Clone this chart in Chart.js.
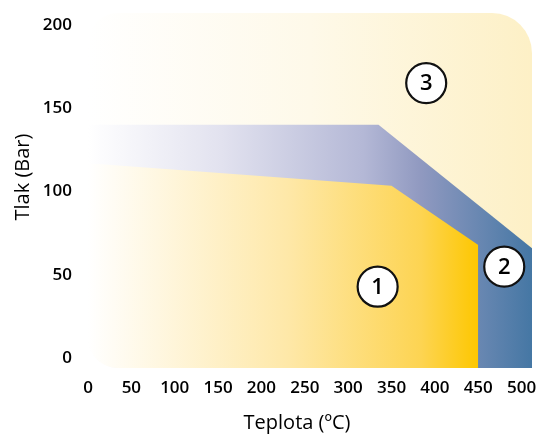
<!DOCTYPE html>
<html>
<head>
<meta charset="utf-8">
<script src="https://cdn.jsdelivr.net/npm/chart.js@4"></script>
<style>
	html, body { margin: 0; padding: 0; background: #fff; }
	#wrap { width: 547px; height: 435px; }
</style>
</head>
<body>
<div id="wrap"><canvas id="phaseChart"></canvas></div>
<script>
// axis ranges and ticks
const xTicks = [0, 50, 100, 150, 200, 250, 300, 350, 400, 450, 500];
const yTicks = [0, 50, 100, 150, 200];
const xRange = [0, 512];
const yRange = [-5.7, 207];

// region 2 (blue band) outline, temperature / pressure
const zone2Temp = [0, 335, 512, 512];
const zone2Press = [140, 140, 66, -5.7];

// region 1 (yellow) outline
const zone1Temp = [0, 350, 450, 450];
const zone1Press = [117, 103.5, 68, -5.7];

// numbered markers
const markerText = ['1', '2', '3'];
const markerTemp = [334, 480, 390];
const markerPress = [43, 55, 165];

const toPoints = (xs, ys) => xs.map((x, i) => ({ x: x, y: ys[i] }));

// horizontal gradient over the chart area
function hGradient(chart, stops) {
	const area = chart.chartArea;
	if (!area) return stops[stops.length - 1][1];
	const g = chart.ctx.createLinearGradient(area.left, 0, area.right, 0);
	stops.forEach(s => g.addColorStop(s[0], s[1]));
	return g;
}

const radii = [30, 40, 0, 30]; // tl, tr, br, bl

// background (region 3) + clip to rounded plot area
const plotShape = {
	id: 'plotShape',
	beforeDatasetsDraw(chart) {
		const { ctx, chartArea: a } = chart;
		ctx.save();
		ctx.beginPath();
		ctx.roundRect(a.left, a.top, a.right - a.left, a.bottom - a.top, radii);
		ctx.fillStyle = hGradient(chart, [[0, '#ffffff'], [0.5, '#fef9e9'], [1, '#fdf0c6']]);
		ctx.fill();
		ctx.clip();
	},
	afterDatasetsDraw(chart) {
		const ctx = chart.ctx;
		ctx.restore();
		// marker numbers
		const meta = chart.getDatasetMeta(2);
		ctx.save();
		ctx.font = '600 22px "Open Sans"';
		ctx.fillStyle = '#000';
		ctx.textAlign = 'center';
		ctx.textBaseline = 'middle';
		meta.data.forEach((pt, i) => {
			ctx.fillText(markerText[i], pt.x, pt.y + 1);
		});
		ctx.restore();
	},
	afterDraw(chart) {
		const ctx = chart.ctx;
		ctx.save();
		ctx.fillStyle = '#000';
		ctx.font = '20px "Open Sans"';
		ctx.textAlign = 'center';
		ctx.textBaseline = 'middle';
		ctx.fillText('Teplota (ºC)', 297, 423);
		ctx.translate(23, 177);
		ctx.rotate(-Math.PI / 2);
		ctx.fillText('Tlak (Bar)', 0, 0);
		ctx.restore();
	}
};

const tickFont = { family: 'Open Sans', size: 17, weight: '600' };

new Chart(document.getElementById('phaseChart'), {
	type: 'line',
	data: {
		datasets: [
			{
				label: 'Zone 2',
				data: toPoints(zone2Temp, zone2Press),
				order: 3,
				fill: 'start',
				borderWidth: 0,
				pointRadius: 0,
				tension: 0,
				backgroundColor: ctx => hGradient(ctx.chart, [[0, '#ffffff'], [0.3, '#e2e2ef'], [0.62, '#b4b8d6'], [0.75, '#9099c0'], [1, '#4577a4']]),
			},
			{
				label: 'Zone 1',
				data: toPoints(zone1Temp, zone1Press),
				order: 2,
				fill: 'start',
				borderWidth: 0,
				pointRadius: 0,
				tension: 0,
				backgroundColor: ctx => hGradient(ctx.chart, [[0, '#ffffff'], [0.45, '#fee8a8'], [0.75, '#fdd452'], [0.88, '#fdc700'], [1, '#fdc700']]),
			},
			{
				label: 'Markers',
				type: 'scatter',
				data: toPoints(markerTemp, markerPress),
				order: 1,
				pointRadius: 20,
				pointBackgroundColor: '#fff',
				pointBorderColor: '#111',
				pointBorderWidth: 2.2,
			},
		],
	},
	options: {
		responsive: true,
		maintainAspectRatio: false,
		animation: false,
		layout: { autoPadding: false, padding: { top: 13, right: 15, left: 0, bottom: 0 } },
		plugins: { legend: { display: false }, tooltip: { enabled: false } },
		scales: {
			x: {
				type: 'linear',
				min: xRange[0],
				max: xRange[1],
				grid: { display: false },
				border: { display: false },
				afterBuildTicks: scale => { scale.ticks = xTicks.map(v => ({ value: v })); },
				afterFit: scale => {
					scale.height = 67;
					scale.paddingLeft = 0;
					scale.paddingRight = 0;
				},
				ticks: { color: '#000', font: tickFont, padding: 2, maxRotation: 0, autoSkip: false },
			},
			y: {
				type: 'linear',
				min: yRange[0],
				max: yRange[1],
				grid: { display: false },
				border: { display: false },
				afterBuildTicks: scale => { scale.ticks = yTicks.map(v => ({ value: v })); },
				afterFit: scale => {
					scale.width = 88;
					scale.paddingTop = 0;
					scale.paddingBottom = 0;
				},
				ticks: { color: '#000', font: tickFont, padding: 8 },
			},
		},
	},
	plugins: [plotShape],
});
</script>
</body>
</html>
